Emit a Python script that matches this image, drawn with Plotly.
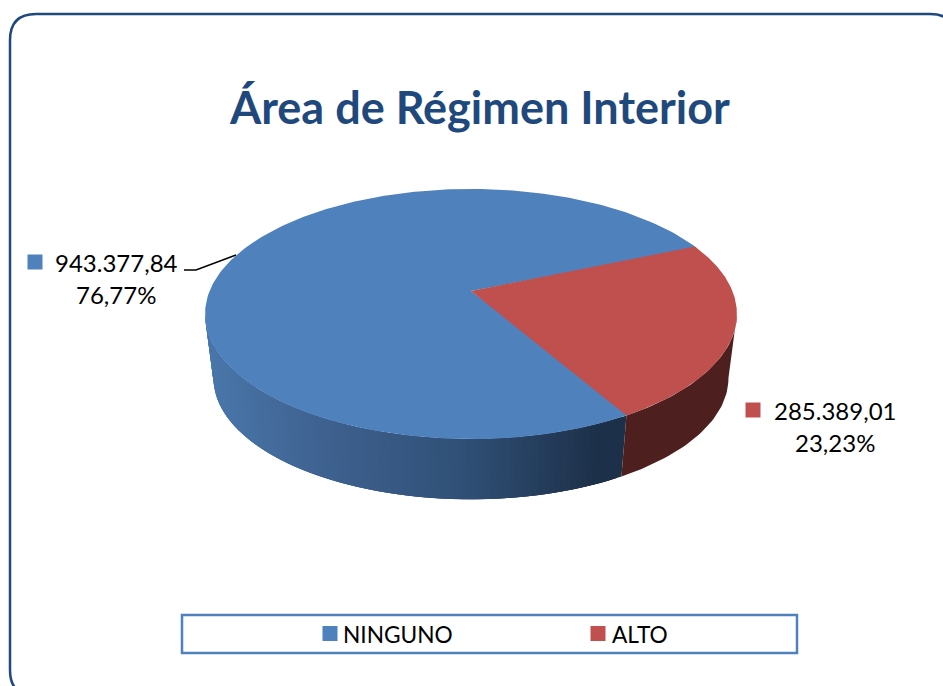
import math
import plotly.graph_objects as go

# ---- data ----
categories = ["NINGUNO", "ALTO"]
values = [943377.84, 285389.01]
value_labels = ["943.377,84", "285.389,01"]
percent_labels = ["76,77%", "23,23%"]
title_text = "Área de Régimen Interior"

# ---- styles ----
top_colors = ["#4f81bd", "#c0504d"]
red_side = "#4d1f1e"
navy = "#1f497d"
FONT = "Lato, Carlito, Calibri, sans-serif"

# ---- projection of the disc (pixel space of the axes) ----
CX, CY = 471, 291
A, B, K = 261.4, 120.8, 0.184
S, LOW_CY = 0.968, 356
RED_START = -23.6   # degrees, screen clockwise from east, start of the ALTO slice
RIGHT_TANGENT = 10.6
LEFT_TANGENT = 169.4


def top_pt(deg):
    t = math.radians(deg)
    X, Y = math.cos(t), math.sin(t)
    d = 1 - K * Y
    return CX + A * X / d, CY + B * Y / d


def low_pt(deg):
    u, v = top_pt(deg)
    return CX + S * (u - CX), LOW_CY + S * (v - CY)


def lerp_hex(stops, x):
    for (x0, c0), (x1, c1) in zip(stops, stops[1:]):
        if x <= x1:
            f = max(0, (x - x0) / (x1 - x0))
            return "rgb(%d,%d,%d)" % tuple(
                round(a + (b - a) * f) for a, b in zip(c0, c1)
            )
    return "rgb(%d,%d,%d)" % stops[-1][1]


GRAD = [(205, (74, 120, 172)), (330, (62, 97, 143)), (470, (47, 79, 117)),
        (600, (29, 48, 73)), (640, (29, 48, 73))]

total = sum(values)
red_sweep = values[1] / total * 360
red_end = RED_START + red_sweep

fig = go.Figure()


def poly(xs, ys, color):
    fig.add_trace(go.Scatter(
        x=xs, y=ys, mode="lines", fill="toself", fillcolor=color,
        line=dict(width=0), hoverinfo="skip", showlegend=False))


# side wall: blue strips, each overlapping the following one
N = 100
a0, a1 = red_end, LEFT_TANGENT
step = (a1 - a0) / N
for i in range(N):
    p = a0 + step * i
    arc = [min(p + step * 3 * j / 6, a1) for j in range(7)]
    tp = [top_pt(a) for a in arc]
    lp = [low_pt(a) for a in reversed(arc)]
    xs = [q[0] for q in tp] + [q[0] for q in lp]
    ys = [q[1] for q in tp] + [q[1] for q in lp]
    poly(xs, ys, lerp_hex(GRAD, (top_pt(p)[0] + low_pt(p)[0]) / 2))

# side wall: red part
angs = [RIGHT_TANGENT + i * (red_end - RIGHT_TANGENT) / 40 for i in range(41)]
poly([top_pt(a)[0] for a in angs] + [low_pt(a)[0] for a in reversed(angs)],
     [top_pt(a)[1] for a in angs] + [low_pt(a)[1] for a in reversed(angs)], red_side)

# top faces (the blue one reaches slightly under the red one to avoid a seam)
OVERLAP = 1.5
for start, sweep, col in [(red_end - OVERLAP, 360 - red_sweep + 2 * OVERLAP, top_colors[0]),
                          (RED_START, red_sweep, top_colors[1])]:
    pts = [top_pt(start + sweep * i / 240) for i in range(241)]
    poly([CX] + [p[0] for p in pts] + [CX], [CY] + [p[1] for p in pts] + [CY], col)

# data labels
label_x = [116, 835]
label_y = [262, 410]
swatch_x = [35, 753]
swatch_y = [262, 410]
fig.add_trace(go.Scatter(
    x=swatch_x, y=swatch_y, mode="markers", hoverinfo="skip", showlegend=False,
    marker=dict(symbol="square", size=15, color=top_colors, line=dict(width=0))))
for i in range(2):
    fig.add_annotation(
        x=label_x[i], y=label_y[i], xref="x", yref="y", showarrow=False,
        align="center", yanchor="middle",
        text=value_labels[i], font=dict(family=FONT, size=24, color="#000000"))
    fig.add_annotation(
        x=label_x[i], y=label_y[i] + 32, xref="x", yref="y", showarrow=False,
        align="center", yanchor="middle",
        text=percent_labels[i], font=dict(family=FONT, size=24, color="#000000"))

# leader line
fig.add_trace(go.Scatter(x=[184, 196, 236], y=[270, 270, 255], mode="lines",
                         line=dict(color="#000000", width=1.5),
                         hoverinfo="skip", showlegend=False))

# legend row
fig.add_shape(type="rect", x0=182, y0=615, x1=797, y1=653, xref="x", yref="y",
              line=dict(color="#4f81bd", width=2.5), fillcolor="#ffffff", layer="below")
leg_mx = [330, 598]
leg_tx = [341, 610]
fig.add_trace(go.Scatter(
    x=leg_mx, y=[633.5, 633.5], mode="markers", hoverinfo="skip", showlegend=False,
    marker=dict(symbol="square", size=15, color=top_colors, line=dict(width=0))))
for i in range(2):
    fig.add_annotation(x=leg_tx[i], y=634, xref="x", yref="y", showarrow=False,
                       xanchor="left", yanchor="middle", text=categories[i],
                       font=dict(family=FONT, size=22.7, color="#000000"))

# title
fig.add_annotation(x=479, y=107, xref="x", yref="y", showarrow=False,
                   xanchor="center", yanchor="middle", text=f"<b>{title_text}</b>",
                   font=dict(family=FONT, size=45, color=navy))

# outer frame
fig.add_shape(type="path", xref="x", yref="y", layer="below",
              line=dict(color=navy, width=2.5),
              path="M 36 696 Q 10 696 10 670 L 10 40 Q 10 14 36 14 L 930 14 Q 956 14 956 40")

fig.update_layout(
    width=943, height=686, margin=dict(l=0, r=0, t=0, b=0),
    paper_bgcolor="#ffffff", plot_bgcolor="#ffffff", showlegend=False,
    xaxis=dict(range=[0, 943], visible=False, fixedrange=True),
    yaxis=dict(range=[686, 0], visible=False, fixedrange=True),
)
fig.write_html("out.html", config={"displayModeBar": False},
               post_script="document.body.style.margin='0';document.body.style.overflow='hidden';")
